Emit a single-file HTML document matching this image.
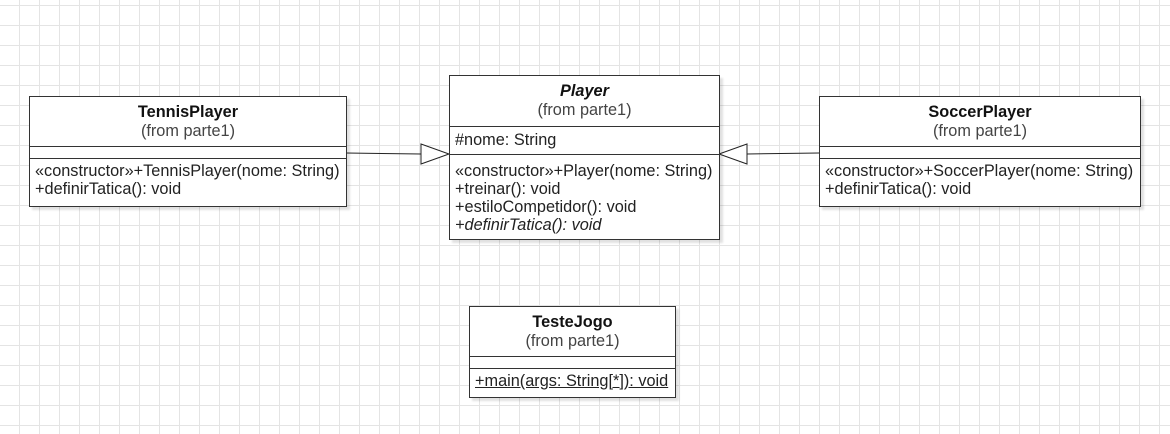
<!DOCTYPE html>
<html><head><style>
body{margin:0;width:1170px;height:434px;overflow:hidden;background:#fff;
background-image:linear-gradient(#e4e4e4 1px,transparent 1px),linear-gradient(90deg,#e4e4e4 1px,transparent 1px);
background-size:20px 20px;background-position:-1px 5px;font-family:"Liberation Sans",sans-serif;font-size:16.3px;color:#222;position:relative}
.b{position:absolute;border:1px solid #333;background:#fff;box-shadow:3px 3px 2px rgba(0,0,0,0.12);box-sizing:border-box}
.h{text-align:center;border-bottom:1px solid #333;box-sizing:border-box;padding-top:6px;line-height:19px}
.h b{color:#111}
.s{border-bottom:1px solid #333;box-sizing:border-box}
.m{padding:4px 5px;line-height:17.5px;white-space:nowrap}
.from{color:#444}
</style></head><body>
<svg width="1170" height="434" style="position:absolute;left:0;top:0">
<line x1="346" y1="153" x2="421" y2="154" stroke="#222" stroke-width="1"/>
<polygon points="421,144 449,154 421,164" fill="#fff" stroke="#222"/>
<line x1="819" y1="153" x2="747" y2="154" stroke="#222" stroke-width="1"/>
<polygon points="747,144 719,154 747,164" fill="#fff" stroke="#222"/>
</svg>
<div class="b" style="left:29px;top:96px;width:318px;height:111px">
<div class="h" style="height:50px"><b>TennisPlayer</b><br><span class="from">(from parte1)</span></div>
<div class="s" style="height:12px"></div>
<div class="m">«constructor»+TennisPlayer(nome: String)<br>+definirTatica(): void</div>
</div>
<div class="b" style="left:449px;top:75px;width:271px;height:165px">
<div class="h" style="height:51px"><b><i>Player</i></b><br><span class="from">(from parte1)</span></div>
<div class="s m" style="height:28px;padding-top:5px">#nome: String</div>
<div class="m" style="padding-top:7px;line-height:18px">«constructor»+Player(nome: String)<br>+treinar(): void<br>+estiloCompetidor(): void<br><i>+definirTatica(): void</i></div>
</div>
<div class="b" style="left:819px;top:96px;width:322px;height:111px">
<div class="h" style="height:50px"><b>SoccerPlayer</b><br><span class="from">(from parte1)</span></div>
<div class="s" style="height:12px"></div>
<div class="m">«constructor»+SoccerPlayer(nome: String)<br>+definirTatica(): void</div>
</div>
<div class="b" style="left:469px;top:306px;width:207px;height:92px">
<div class="h" style="height:50px"><b>TesteJogo</b><br><span class="from">(from parte1)</span></div>
<div class="s" style="height:12px"></div>
<div class="m" style="text-decoration:underline">+main(args: String[*]): void</div>
</div>
</body></html>
